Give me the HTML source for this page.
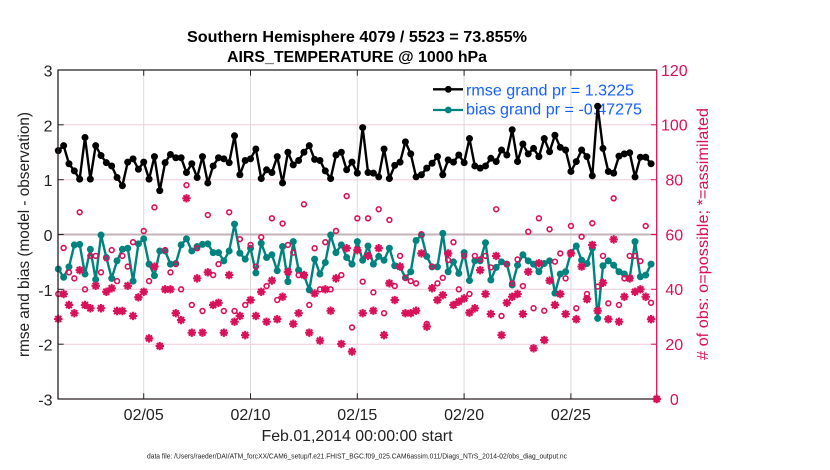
<!DOCTYPE html>
<html><head><meta charset="utf-8">
<style>
html,body{margin:0;padding:0;background:#fff;}
svg{display:block;font-family:"Liberation Sans",Arial,sans-serif;}
</style></head><body>
<svg id="s" width="830" height="470" viewBox="0 0 830 470" xmlns="http://www.w3.org/2000/svg">
<rect width="830" height="470" fill="#fff"/>
<!-- grid -->
<g stroke="#dadada" stroke-width="1">
<line x1="143.7" y1="70" x2="143.7" y2="399"/>
<line x1="250.5" y1="70" x2="250.5" y2="399"/>
<line x1="357.3" y1="70" x2="357.3" y2="399"/>
<line x1="464.1" y1="70" x2="464.1" y2="399"/>
<line x1="570.9" y1="70" x2="570.9" y2="399"/>
</g>
<g stroke="#f4cbd9" stroke-width="1">
<line x1="58" y1="124.8" x2="657" y2="124.8"/>
<line x1="58" y1="179.7" x2="657" y2="179.7"/>
<line x1="58" y1="289.3" x2="657" y2="289.3"/>
<line x1="58" y1="344.2" x2="657" y2="344.2"/>
</g>
<line x1="58" y1="234.5" x2="657" y2="234.5" stroke="#c4b3b9" stroke-width="2"/>

<!-- titles -->
<text x="357" y="42" text-anchor="middle" font-weight="bold" font-size="16" textLength="340" lengthAdjust="spacingAndGlyphs" fill="#000">Southern Hemisphere 4079 / 5523 = 73.855%</text>
<text x="357" y="62" text-anchor="middle" font-weight="bold" font-size="16" textLength="260" lengthAdjust="spacingAndGlyphs" fill="#000">AIRS_TEMPERATURE @ 1000 hPa</text>

<!-- legend text -->
<text x="466" y="95.7" font-size="16" fill="#1560ff" textLength="168" lengthAdjust="spacingAndGlyphs">rmse grand pr = 1.3225</text>
<text x="466" y="114.3" font-size="16" fill="#1560ff" textLength="176" lengthAdjust="spacingAndGlyphs">bias grand pr = -0.47275</text>

<g id="data"></g>

<!-- legend lines -->
<line x1="433" y1="89.3" x2="463" y2="89.3" stroke="#000" stroke-width="2.3"/>
<circle cx="448.3" cy="89.3" r="3.4" fill="#000"/>
<line x1="433" y1="110" x2="463" y2="110" stroke="#00837f" stroke-width="2.3"/>
<circle cx="448.3" cy="110" r="3.4" fill="#00837f"/>

<!-- axes -->
<line x1="58" y1="70" x2="657" y2="70" stroke="#222" stroke-width="1.2"/>
<line x1="58" y1="399" x2="657" y2="399" stroke="#2a1f22" stroke-width="1.3"/>
<line x1="58" y1="69.5" x2="58" y2="399.5" stroke="#2a1f22" stroke-width="1.3"/>
<line x1="656.7" y1="69.5" x2="656.7" y2="399.5" stroke="#d8115a" stroke-width="1.3"/>
<g stroke="#2a1f22" stroke-width="1">
<line x1="143.7" y1="399" x2="143.7" y2="393.3"/>
<line x1="250.5" y1="399" x2="250.5" y2="393.3"/>
<line x1="357.3" y1="399" x2="357.3" y2="393.3"/>
<line x1="464.1" y1="399" x2="464.1" y2="393.3"/>
<line x1="570.9" y1="399" x2="570.9" y2="393.3"/>
<line x1="143.7" y1="70" x2="143.7" y2="75.7"/>
<line x1="250.5" y1="70" x2="250.5" y2="75.7"/>
<line x1="357.3" y1="70" x2="357.3" y2="75.7"/>
<line x1="464.1" y1="70" x2="464.1" y2="75.7"/>
<line x1="570.9" y1="70" x2="570.9" y2="75.7"/>
<line x1="58" y1="124.8" x2="63.7" y2="124.8"/>
<line x1="58" y1="179.7" x2="63.7" y2="179.7"/>
<line x1="58" y1="234.5" x2="63.7" y2="234.5"/>
<line x1="58" y1="289.3" x2="63.7" y2="289.3"/>
<line x1="58" y1="344.2" x2="63.7" y2="344.2"/>
</g>
<g stroke="#d8115a" stroke-width="1">
<line x1="656.7" y1="124.8" x2="651" y2="124.8"/>
<line x1="656.7" y1="179.7" x2="651" y2="179.7"/>
<line x1="656.7" y1="234.5" x2="651" y2="234.5"/>
<line x1="656.7" y1="289.3" x2="651" y2="289.3"/>
<line x1="656.7" y1="344.2" x2="651" y2="344.2"/>
</g>
<path d="M652.5 399h8.4M656.7 394.8v8.4M653.7 396l6 6M653.7 402l6-6" stroke="#d8115a" stroke-width="2.3"/>

<!-- left tick labels -->
<g font-size="16" fill="#222" text-anchor="end">
<text x="52.5" y="76.5">3</text>
<text x="52.5" y="131.3">2</text>
<text x="52.5" y="186.2">1</text>
<text x="52.5" y="241">0</text>
<text x="52.5" y="295.8">-1</text>
<text x="52.5" y="350.7">-2</text>
<text x="52.5" y="405.3">-3</text>
</g>
<!-- right tick labels -->
<g font-size="16" fill="#d8115a" text-anchor="middle">
<text x="674.3" y="75.8">120</text>
<text x="674.3" y="130.6">100</text>
<text x="674.3" y="185.5">80</text>
<text x="674.3" y="240.3">60</text>
<text x="674.3" y="295.1">40</text>
<text x="674.3" y="350">20</text>
<text x="674.3" y="404.8">0</text>
</g>
<!-- x tick labels -->
<g font-size="16" fill="#222" text-anchor="middle">
<text x="143.7" y="420">02/05</text>
<text x="250.5" y="420">02/10</text>
<text x="357.3" y="420">02/15</text>
<text x="464.1" y="420">02/20</text>
<text x="570.9" y="420">02/25</text>
</g>
<text x="357" y="441" font-size="16" fill="#222" text-anchor="middle" textLength="191" lengthAdjust="spacingAndGlyphs">Feb.01,2014 00:00:00 start</text>
<text x="357" y="458.5" font-size="7.5" fill="#222" text-anchor="middle" textLength="420" lengthAdjust="spacingAndGlyphs">data file: /Users/raeder/DAI/ATM_forcXX/CAM6_setup/f.e21.FHIST_BGC.f09_025.CAM6assim.011/Diags_NTrS_2014-02/obs_diag_output.nc</text>

<text transform="translate(29,234.5) rotate(-90)" font-size="16" fill="#222" text-anchor="middle" textLength="245" lengthAdjust="spacingAndGlyphs">rmse and bias (model - observation)</text>
<text transform="translate(708,234) rotate(-90)" font-size="16" fill="#d8115a" text-anchor="middle" textLength="252" lengthAdjust="spacingAndGlyphs"># of obs: o=possible; *=assimilated</text>
</svg>
<script>
(function(){
var rmse=[1.53,1.62,1.29,1.16,1.01,1.77,1.01,1.62,1.44,1.31,1.25,1.04,0.89,1.32,1.38,1.19,1.32,1.01,1.42,0.80,1.31,1.46,1.40,1.40,1.13,1.29,1.04,1.42,0.94,1.25,1.40,1.38,1.31,1.80,1.09,1.35,1.38,1.56,1.02,1.18,1.13,1.42,0.94,1.50,1.27,1.35,1.50,1.62,1.37,1.35,1.16,1.02,1.45,1.50,1.18,1.32,1.12,1.95,1.13,1.12,1.05,1.56,1.02,1.26,1.32,1.69,1.47,1.05,1.09,1.21,1.30,1.42,1.09,1.36,1.32,1.45,1.31,1.75,1.25,1.21,1.25,1.39,1.33,1.54,1.45,1.91,1.33,1.65,1.47,1.57,1.42,1.75,1.51,1.81,1.59,1.54,1.15,1.33,1.54,1.42,1.07,2.34,1.57,1.15,1.12,1.43,1.47,1.49,1.05,1.41,1.41,1.29];
var bias=[-0.63,-0.78,-0.59,-0.19,-0.18,-0.72,-0.27,-0.82,-0.01,-0.42,-0.80,-0.48,-0.27,-0.25,-0.85,-0.17,-0.08,-0.54,-0.75,-0.30,-0.30,-0.54,-0.53,-0.19,-0.08,-0.30,-0.22,-0.18,-0.17,-0.33,-0.33,-0.48,-0.30,0.19,-0.34,-0.45,-0.25,-0.70,-0.16,-0.42,-0.37,-0.66,-0.22,-0.86,-0.13,-0.65,-0.74,-1.01,-0.45,-0.72,-0.51,-0.01,-0.33,-0.19,-0.42,-0.54,-0.13,-0.47,-0.21,-0.54,-0.40,-0.47,-0.25,-0.57,-0.59,-0.79,-0.68,-0.11,-0.01,-0.40,-0.59,-0.59,0.02,-0.68,-0.50,-0.71,-0.33,-0.84,-0.48,-0.48,-0.15,-0.83,-0.60,-0.50,-0.54,-0.92,-0.56,-0.37,-0.48,-0.54,-0.68,-0.53,-0.48,-1.07,-0.72,-0.68,-0.33,-0.21,-0.47,-0.53,-0.25,-1.53,-0.57,-0.48,-0.56,-0.68,-0.72,-0.80,-0.13,-0.77,-0.74,-0.54];
var poss=[38.3,55.1,46.2,44,68.1,40,52.2,52.2,46.2,51.3,54.3,43,52.2,48.3,57.2,37.1,61.3,43,69.9,19.3,54.3,46.2,49.2,40,78,34.3,55,32.1,67.1,45.2,49.2,32.1,68.1,32.1,58.3,34.3,56.2,48.3,59,41.2,65.9,36.1,64,56.2,53.4,45.2,71,34.3,55,40,57.2,40,61.3,45.2,74,26.1,65.9,42.8,65.9,38.9,69.2,31.3,65.3,41.2,52.2,44.2,43,42.2,60.1,27.4,48.3,42.2,44.2,50.7,57.2,40,52.2,38.3,52.2,50.9,52.2,48,69.2,30.3,49.2,42.2,50.9,41.2,61,33.1,65.9,32.2,61.9,50.1,53.1,44,63.1,33.1,59.2,38.3,64.1,41,52.2,34.9,73.2,34.3,44,52.2,52.2,50.3,63.1,35.1];
var assim=[29.2,38.3,34.3,31.3,47,34.3,33.1,41.3,33.1,39.1,40.4,32.1,32.1,41.3,30.3,37.1,39.1,22.1,48.3,19.3,40,40,31.3,28.8,73.2,24.2,44,24.2,46.2,34.3,35.1,24.2,45.2,28.2,30.3,23.3,36.1,30.3,39.1,28.2,43.2,29.1,37.3,46.4,27.4,31.3,45.2,24.2,38.5,21.3,40,32.2,44,20.1,55,17.3,54.3,31.3,52.2,32.2,55,23.3,42.2,36.1,48.3,31.3,31.3,32.2,53.1,26.4,40.4,36.1,37.9,53.1,34.3,35.5,36.7,31.5,33.1,47,38.3,31,52.2,23.3,35.1,37.3,38.3,31,46.4,18.5,49.5,21.5,43.2,34.3,38.3,31,53.1,29.1,48.3,36.4,56.2,32.2,42.4,29.1,58.2,28.2,37.3,44,39.1,40,37.3,29.1];
function X(i){return 58.3+5.34*i;}
function YL(v){return 234.5-54.83*v;}
function YR(v){return 399-v*329/120;}
var h='';
function series(arr,col){
  var p=[];for(var i=0;i<arr.length;i++)p.push(X(i).toFixed(2)+','+YL(arr[i]).toFixed(2));
  h+='<polyline points="'+p.join(' ')+'" fill="none" stroke="'+col+'" stroke-width="2.4" stroke-linejoin="round"/>';
  for(var i=0;i<arr.length;i++)h+='<circle cx="'+X(i).toFixed(2)+'" cy="'+YL(arr[i]).toFixed(2)+'" r="3.5" fill="'+col+'"/>';
}
series(rmse,'#000');
series(bias,'#00837f');
var d='';
for(var i=0;i<assim.length;i++){
  var x=X(i),y=YR(assim[i]);
  d+='M'+(x-4.2).toFixed(2)+' '+y.toFixed(2)+'h8.4M'+x.toFixed(2)+' '+(y-4.2).toFixed(2)+'v8.4M'+(x-3).toFixed(2)+' '+(y-3).toFixed(2)+'l6 6M'+(x-3).toFixed(2)+' '+(y+3).toFixed(2)+'l6 -6';
}
h+='<path d="'+d+'" stroke="#d8115a" stroke-width="2.1" fill="none"/>';
for(var i=0;i<poss.length;i++)h+='<circle cx="'+X(i).toFixed(2)+'" cy="'+YR(poss[i]).toFixed(2)+'" r="2.4" fill="none" stroke="#d8115a" stroke-width="1.6"/>';
document.getElementById('data').innerHTML=h;
})();
</script>
</body></html>
